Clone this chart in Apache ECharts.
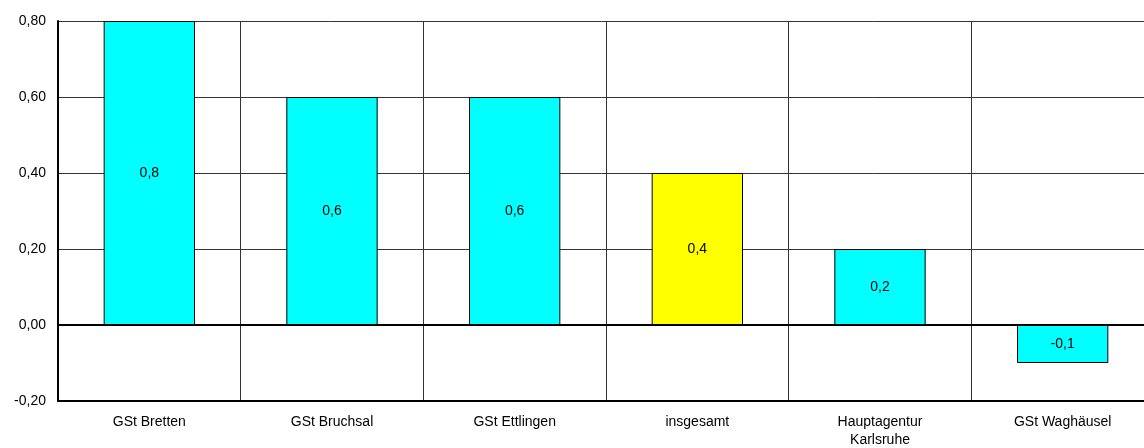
<!DOCTYPE html>
<html>
<head>
<meta charset="utf-8">
<script src="https://cdn.jsdelivr.net/npm/echarts@6/dist/echarts.min.js"></script>
<style>
  html, body { margin: 0; padding: 0; background: #fff; }
  #chart { width: 1144px; height: 448px; }
</style>
</head>
<body>
<div id="chart"></div>
<script>
let categories = ['GSt Bretten', 'GSt Bruchsal', 'GSt Ettlingen', 'insgesamt', 'Hauptagentur\nKarlsruhe', 'GSt Waghäusel'];
let values = [0.8, 0.6, 0.6, 0.4, 0.2, -0.1];
let highlight = 'insgesamt'; // Gesamtwert gelb

let chart = echarts.init(document.getElementById('chart'));

let fmt = (v, d) => v.toFixed(d).replace('.', ',');

chart.setOption({
    animation: false,
    textStyle: { fontFamily: 'Liberation Sans, Arial, sans-serif' },
    // Plotfläche läuft rechts etwas über den Rand hinaus
    grid: { left: 58, top: 21, width: 1096, height: 380, outerBoundsMode: 'none', containLabel: false },
    xAxis: {
        type: 'category',
        data: categories,
        axisLine: { onZero: false, lineStyle: { color: '#000', width: 2 } },
        axisTick: { show: false },
        splitLine: { show: true, lineStyle: { color: '#333', width: 1 } },
        axisLabel: { color: '#000', fontSize: 14, margin: 12, lineHeight: 18, interval: 0 }
    },
    yAxis: {
        type: 'value',
        min: -0.2,
        max: 0.8,
        interval: 0.2,
        axisLine: { show: true, lineStyle: { color: '#000', width: 2 } },
        axisTick: { show: false },
        splitLine: { lineStyle: { color: '#333', width: 1 } },
        axisLabel: { color: '#000', fontSize: 14, margin: 12, formatter: v => fmt(v, 2) }
    },
    series: [{
        type: 'bar',
        barWidth: '50%',
        data: values.map((v, i) => ({
            value: v,
            itemStyle: { color: categories[i] === highlight ? '#ffff00' : '#00ffff' }
        })),
        itemStyle: { borderColor: '#000', borderWidth: 1 },
        label: {
            show: true,
            position: 'inside',
            color: '#000',
            fontSize: 14,
            formatter: p => fmt(p.value, 1)
        },
        markLine: {
            silent: true,
            symbol: 'none',
            label: { show: false },
            lineStyle: { color: '#000', width: 2, type: 'solid' },
            data: [{ yAxis: 0 }]
        }
    }]
});
</script>
</body>
</html>
